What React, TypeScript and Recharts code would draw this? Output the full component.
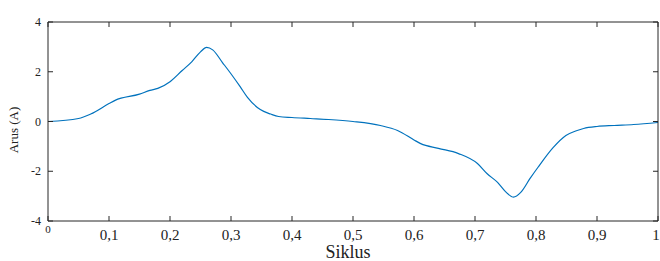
import React from "react";
import { LineChart, Line, XAxis, YAxis, Label } from "recharts";

// Siklus (x) and Arus (y)
const siklus = [
  0, 0.05, 0.07, 0.1, 0.11, 0.15, 0.167, 0.18, 0.2, 0.22, 0.236, 0.25, 0.26,
  0.27, 0.286, 0.302, 0.315, 0.327, 0.348, 0.365, 0.378, 0.4, 0.43, 0.46, 0.5,
  0.545, 0.573, 0.6, 0.611, 0.64, 0.673, 0.704, 0.72, 0.737, 0.75, 0.763,
  0.775, 0.79, 0.803, 0.828, 0.849, 0.865, 0.878, 0.9, 0.928, 0.96, 1,
];
const arus = [
  0, 0.12, 0.3, 0.72, 0.85, 1.1, 1.25, 1.33, 1.6, 2.05, 2.41, 2.8, 2.98, 2.88,
  2.37, 1.85, 1.4, 0.97, 0.48, 0.3, 0.2, 0.16, 0.12, 0.08, 0, -0.16, -0.36,
  -0.74, -0.89, -1.08, -1.29, -1.69, -2.1, -2.45, -2.82, -3.04, -2.85, -2.3,
  -1.85, -1.05, -0.56, -0.38, -0.28, -0.2, -0.16, -0.12, -0.04,
];
const xTicks = [0, 0.1, 0.2, 0.3, 0.4, 0.5, 0.6, 0.7, 0.8, 0.9, 1];
const yTicks = [-4, -2, 0, 2, 4];

const data = siklus.map((s, i) => ({ siklus: s, arus: arus[i] }));

const FONT = "'Liberation Serif', 'Times New Roman', serif";
const AXIS = "#262626";
const TICK = 5;
const W = 660;
const H = 261;
const YAXIS_W = 48;
const XAXIS_H = 40;
const MARGIN = { top: 22, right: 2, left: 0, bottom: 0 };
const PLOT_TOP = MARGIN.top;
const PLOT_RIGHT = W - MARGIN.right;
const PLOT_BOTTOM = H - XAXIS_H;

const fmt = (v: number) => String(v).replace(".", ",");

// bottom tick: inward tick at bottom and mirrored tick at the top edge
function BottomTick(props: any) {
  const { x, y, payload } = props;
  const v = payload.value;
  const last = v === xTicks[xTicks.length - 1];
  return (
    <g>
      <path d={`M${x},${y}V${y - TICK}`} stroke={AXIS} fill="none" />
      <path d={`M${x},${PLOT_TOP}V${PLOT_TOP + TICK}`} stroke={AXIS} fill="none" />
      {v === 0 ? (
        <text x={x} y={y + 12} textAnchor="middle" style={{ fontSize: 11, fontFamily: FONT }} fill="#222">
          0
        </text>
      ) : (
        <text
          x={last ? x - 2 : x}
          y={y + 19}
          textAnchor="middle"
          style={{ fontSize: 15, fontFamily: FONT }}
          fill="#222"
        >
          {fmt(v)}
        </text>
      )}
    </g>
  );
}

// left tick: inward tick at left and mirrored tick at the right edge
function LeftTick(props: any) {
  const { x, y, payload } = props;
  return (
    <g>
      <path d={`M${x},${y}H${x + TICK}`} stroke={AXIS} fill="none" />
      <path d={`M${PLOT_RIGHT},${y}H${PLOT_RIGHT - TICK}`} stroke={AXIS} fill="none" />
      <text x={x - 7} y={y + 4} textAnchor="end" style={{ fontSize: 12, fontFamily: FONT }} fill="#222">
        {payload.value}
      </text>
    </g>
  );
}

export default function App() {
  return (
    <div style={{ position: "fixed", left: 0, top: 0, width: W, height: H, background: "#fff" }}>
      <LineChart width={W} height={H} data={data} margin={MARGIN}>
        <XAxis
          dataKey="siklus"
          type="number"
          domain={[0, 1]}
          ticks={xTicks}
          interval={0}
          height={XAXIS_H}
          tickSize={0}
          tickMargin={0}
          tickLine={false}
          stroke={AXIS}
          tick={<BottomTick />}
        >
          <Label
            content={() => (
              <text x={348} y={258} textAnchor="middle" style={{ fontSize: 18, fontFamily: FONT }} fill="#222">
                Siklus
              </text>
            )}
          />
        </XAxis>
        <YAxis
          type="number"
          domain={[-4, 4]}
          ticks={yTicks}
          interval={0}
          width={YAXIS_W}
          tickSize={0}
          tickMargin={0}
          tickLine={false}
          stroke={AXIS}
          tick={<LeftTick />}
        >
          <Label
            content={() => (
              <text
                x={18}
                y={130}
                transform="rotate(-90 18 130)"
                textAnchor="middle"
                style={{ fontSize: 13, fontFamily: FONT }}
                fill="#222"
              >
                Arus (A)
              </text>
            )}
          />
        </YAxis>
        <Line
          type="monotone"
          dataKey="arus"
          stroke="#0072BD"
          strokeWidth={1.2}
          dot={false}
          isAnimationActive={false}
        />
      </LineChart>
      {/* top and right edges of the plot frame, drawn over the chart */}
      <svg
        width={W}
        height={H}
        style={{ position: "absolute", left: 0, top: 0, pointerEvents: "none" }}
      >
        <path
          d={`M${YAXIS_W},${PLOT_TOP}H${PLOT_RIGHT}V${PLOT_BOTTOM}`}
          stroke={AXIS}
          strokeWidth={1}
          fill="none"
        />
      </svg>
    </div>
  );
}
